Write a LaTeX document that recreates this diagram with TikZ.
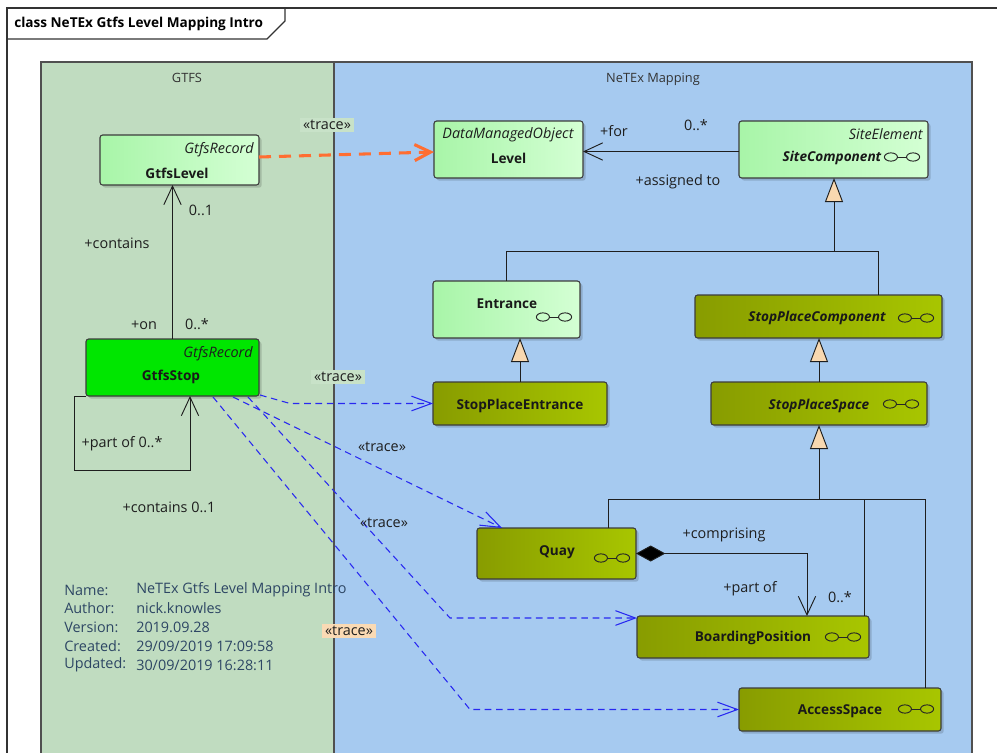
\documentclass[tikz,border=0pt]{standalone}
\usepackage{fontspec}
\setmainfont{Open Sans}
\usetikzlibrary{arrows.meta,calc,shadows}
\definecolor{gtfsbg}{RGB}{192,220,192}
\definecolor{netexbg}{RGB}{166,202,240}
\definecolor{lgA}{RGB}{168,245,168}
\definecolor{lgB}{RGB}{212,255,212}
\definecolor{olA}{RGB}{136,156,0}
\definecolor{olB}{RGB}{168,198,0}
\definecolor{stopgreen}{RGB}{0,230,0}
\definecolor{orangetrace}{RGB}{255,110,50}
\definecolor{bluetrace}{RGB}{40,40,240}
\definecolor{peach}{RGB}{248,216,176}
\definecolor{notetext}{RGB}{45,70,100}
\definecolor{tracegreen}{RGB}{200,226,200}
\definecolor{tracepeach}{RGB}{250,218,180}
\definecolor{linegray}{RGB}{30,30,30}
\definecolor{boxline}{RGB}{60,60,60}
\definecolor{panelline}{RGB}{80,80,80}
\newcommand\umlbox[6]{\node[#1, minimum width={(#4-#2)*0.75pt}, minimum height={(#5-#3)*0.75pt}] (#6) at ({(#2+#4)/2},{(#3+#5)/2}) {};}
\newcommand\regfont{\fontsize{10.8}{13}\selectfont}
\newcommand\boldfont{\fontsize{10.2}{13}\selectfont\bfseries}
\begin{document}
\begin{tikzpicture}[x=0.75pt,y=-0.75pt, font=\regfont,
  box/.style={draw=boxline, line width=0.8pt, rounded corners=2pt, inner sep=0pt, outer sep=0pt,
    drop shadow={shadow xshift=2pt,shadow yshift=-2pt,fill=black,opacity=0.15}},
  lightbox/.style={box,left color=lgA,right color=lgB},
  olivebox/.style={box,left color=olA,right color=olB},
  stopbox/.style={box,fill=stopgreen},
  conn/.style={draw=linegray, line width=0.7pt},
  assoc/.style={conn, -{Straight Barb[length=14pt,width=13pt]}},
  gen/.style={conn, -{Triangle[length=18pt,width=13.5pt,fill=peach]}},
  comp/.style={conn, {Diamond[length=22pt,width=12pt,fill=black]}-{Straight Barb[length=14pt,width=13pt]}},
  btrace/.style={draw=bluetrace, line width=0.8pt, dash pattern=on 5pt off 3.5pt, -{Straight Barb[length=15pt,width=11pt]}},
  otrace/.style={draw=orangetrace, line width=2.3pt, dash pattern=on 9pt off 6pt, -{Straight Barb[length=12pt,width=12pt]}},
  panel/.style={draw=panelline, line width=1.1pt},
  lbl/.style={inner sep=1pt, text=linegray},
  stereo/.style={inner sep=0pt, anchor=east, font=\regfont\itshape, text=linegray},
  cname/.style={inner sep=0pt, font=\boldfont, text=black!90},
  cnameit/.style={inner sep=0pt, font=\boldfont\itshape, text=black!90},
  notekey/.style={inner sep=0pt, anchor=west, text=notetext},
  linkicon/.pic={
    \draw[line width=0.7pt, draw=black!85] (-8.3pt,0pt) ellipse [x radius=4.9pt, y radius=3.1pt];
    \draw[line width=0.7pt, draw=black!85] (8.3pt,0pt) ellipse [x radius=4.9pt, y radius=3.1pt];
    \draw[line width=0.7pt, draw=black!85] (-3.4pt,0pt) -- (3.4pt,0pt);
  }
]
\useasboundingbox (0,0) rectangle (997,753);
\clip (0,0) rectangle (997,753);
\fill[white] (0,0) rectangle (997,753);

% frame
\draw[draw=black!80, line width=0.8pt] (7,760) -- (7,8) -- (1000,8);
\draw[draw=black!80, line width=0.8pt] (7,39) -- (267,39) -- (285,21) -- (285,8);
\node[anchor=west, inner sep=0pt, font=\boldfont] (title) at (14,24) {class NeTEx Gtfs Level Mapping Intro};

% panels
\draw[panel, fill=gtfsbg] (41,62) rectangle (334,770);
\draw[panel, fill=netexbg] (334,62) rectangle (972,770);
\node[inner sep=0pt, font=\fontsize{9.6}{12}\selectfont, text=black!80] (gtfslabel) at (187,78) {GTFS};
\node[inner sep=0pt, font=\fontsize{9.6}{12}\selectfont, text=black!80] (netexlabel) at (653,79) {NeTEx Mapping};

% boxes
\umlbox{lightbox}{100}{135}{259}{185}{gtfslevel}
\umlbox{lightbox}{434}{121}{583}{178}{level}
\umlbox{lightbox}{739}{121}{928}{178}{sitecomp}
\umlbox{lightbox}{433}{281}{580}{338}{entrance}
\umlbox{olivebox}{695}{295}{942}{338}{spcomp}
\umlbox{olivebox}{433}{382}{607}{425}{spentr}
\umlbox{olivebox}{711}{382}{927}{425}{spspace}
\umlbox{stopbox}{86}{339}{259}{396}{gtfsstop}
\umlbox{olivebox}{477}{528}{636}{579}{quay}
\umlbox{olivebox}{637}{616}{869}{658}{boarding}
\umlbox{olivebox}{739}{688}{941}{731}{access}

% box texts
\node[stereo] (gl-st) at (254,150) {GtfsRecord};
\node[cname] (gl-nm) at (177,173) {GtfsLevel};
\node[stereo, anchor=center] (lv-st) at (508,135) {DataManagedObject};
\node[cname] (lv-nm) at (508.5,158) {Level};
\node[stereo] (sc-st) at (923,134) {SiteElement};
\node[cnameit] (sc-nm) at (832,158) {SiteComponent};
\pic at (902,157) {linkicon};
\node[cname] (en-nm) at (507,304) {Entrance};
\pic at (554,317) {linkicon};
\node[cnameit] (spc-nm) at (817,318) {StopPlaceComponent};
\pic at (916,318) {linkicon};
\node[cname] (spe-nm) at (520,406) {StopPlaceEntrance};
\node[cnameit] (sps-nm) at (819,406) {StopPlaceSpace};
\pic at (901,404) {linkicon};
\node[stereo] (gs-st) at (253,354) {GtfsRecord};
\node[cname] (gs-nm) at (171,377) {GtfsStop};
\node[cname] (qu-nm) at (557,552) {Quay};
\pic at (612,558) {linkicon};
\node[cname] (bp-nm) at (753,638) {BoardingPosition};
\pic at (843,637) {linkicon};
\node[cname] (as-nm) at (840,711) {AccessSpace};
\pic at (916,709) {linkicon};

% associations
\draw[assoc] (gtfsstop.north) -- (gtfsstop.north |- gtfslevel.south);
\draw[assoc] ($(sitecomp.west)+(0,2)$) -- ($(level.east)+(0,2)$);
\coordinate (sl) at (74,470);
\coordinate (sr) at (190,470);
\draw[assoc] (gtfsstop.south west) -| (sl) -- (sr) -- (sr |- gtfsstop.south);

% generalizations
\coordinate (gj) at (834,251);
\coordinate (gl) at (506.5,251);
\coordinate (gr) at (878,251);
\draw[conn] (entrance.north) -- (gl) -- (gr) -- (gr |- spcomp.north);
\draw[gen] (gj) -- (gj |- sitecomp.south);
\draw[gen] (spentr.north) -- (spentr.north |- entrance.south);
\draw[gen] (spspace.north) -- (spspace.north |- spcomp.south);
\coordinate (hj) at (819,499);
\coordinate (hq) at (608,499);
\coordinate (hb) at (864,499);
\coordinate (ha) at (925,499);
\draw[conn] (hq |- quay.north) -- (hq) -- (ha) -- (ha |- access.north);
\draw[conn] (hb) -- (hb |- boarding.north);
\draw[gen] (hj) -- (spspace.south);

% composition
\coordinate (cq) at (807,553.5);
\draw[comp] (quay.east) -- (cq) -- (cq |- boarding.north);

% traces
\draw[otrace] ($(gtfslevel.east)+(0,-3)$) -- ($(level.west)+(0,2.5)$);
\coordinate (t1) at (290,403.5);
\draw[btrace] ($(gtfsstop.south east)+(1,-1)$) -- (t1) -- (spentr.west);
\draw[btrace] ($(gtfsstop.south)+(60.5,1)$) -- ($(quay.north west)+(25,0)$);
\coordinate (t3) at (450,618);
\draw[btrace] ($(gtfsstop.south)+(75.5,1)$) -- (t3) -- (t3 -| boarding.west);
\coordinate (t4) at (470,709.5);
\draw[btrace] ($(gtfsstop.south)+(40.5,1)$) -- (t4) -- (access.west);

% labels
\node[lbl, fill=tracegreen, inner sep=2pt] (tr1) at (327,125) {«trace»};
\node[lbl, fill=tracegreen, inner sep=2pt] (tr2) at (338,377) {«trace»};
\node[lbl] (tr3) at (382,447) {«trace»};
\node[lbl] (tr4) at (384,523) {«trace»};
\node[lbl, fill=tracepeach, inner sep=2pt] (tr5) at (349,631) {«trace»};

\node[lbl] (l-for) at (614,131) {+for};
\node[lbl] (l-m1) at (696,125) {0..*};
\node[lbl] (l-asg) at (678,182) {+assigned to};
\node[lbl] (l-01) at (201,210) {0..1};
\node[lbl] (l-cont) at (117,243) {+contains};
\node[lbl] (l-on) at (144,325) {+on};
\node[lbl] (l-m2) at (197,324) {0..*};
\node[lbl] (l-po) at (122,444) {+part of 0..*};
\node[lbl] (l-c01) at (169,507) {+contains 0..1};
\node[lbl] (l-comp) at (724,535) {+comprising};
\node[lbl] (l-pof) at (750,589) {+part of};
\node[lbl] (l-m3) at (840,597) {0..*};

% note
\node[notekey] (nk1) at (64,590) {Name:};
\node[notekey] (nk2) at (64,608) {Author:};
\node[notekey] (nk3) at (64,627) {Version:};
\node[notekey] (nk4) at (64,646) {Created:};
\node[notekey] (nk5) at (64,665) {Updated:};
\node[notekey] (nv1) at (136,590) {NeTEx Gtfs Level Mapping Intro};
\node[notekey] (nv2) at (136,608) {nick.knowles};
\node[notekey] (nv3) at (136,627) {2019.09.28};
\node[notekey] (nv4) at (136,646) {29/09/2019 17:09:58};
\node[notekey] (nv5) at (136,665) {30/09/2019 16:28:11};
\end{tikzpicture}
\end{document}
